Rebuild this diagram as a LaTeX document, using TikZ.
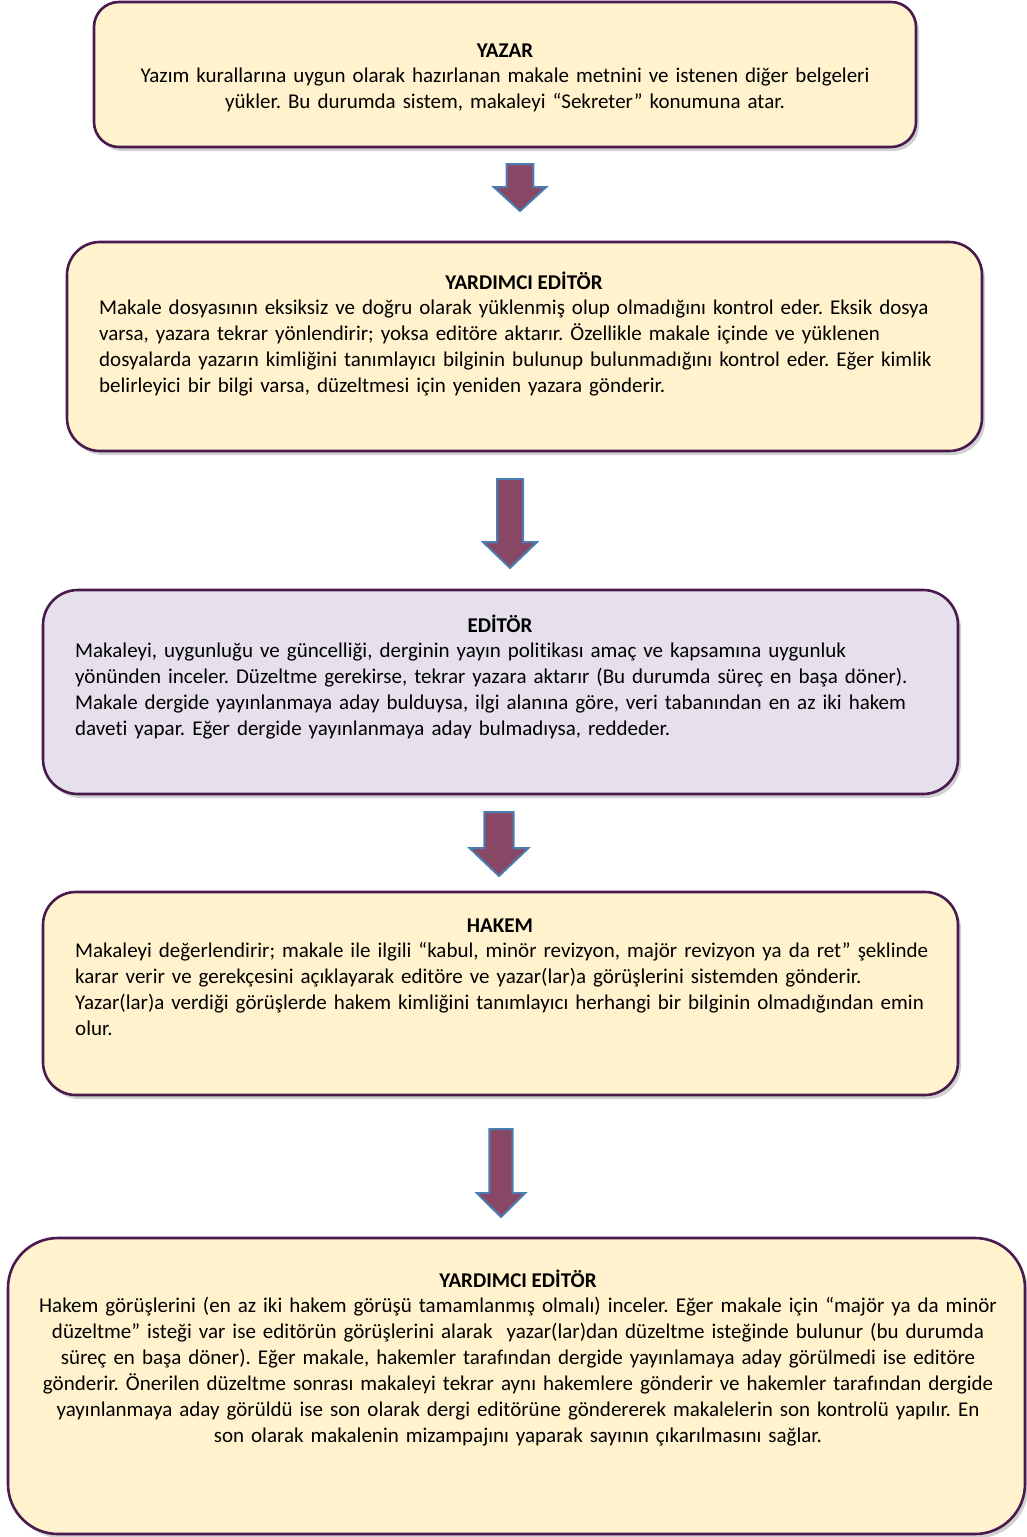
\documentclass[tikz,border=0pt]{standalone}
\usepackage{fontspec}
\setmainfont{Carlito}[Ligatures=NoCommon]
\frenchspacing
\usetikzlibrary{shadows}

\definecolor{kutusari}{HTML}{FFF2CC}
\definecolor{kutulila}{HTML}{E5E0EC}
\definecolor{kenarmor}{HTML}{4A1A4E}
\definecolor{okdolgu}{HTML}{894766}
\definecolor{okkenar}{HTML}{4A7DB0}

\newcommand{\yazi}{\fontsize{21}{26}\selectfont}

% asagi dogru blok ok: x, ust, alt, govde yari genislik, bas yari genislik, bas baslangici
\newcommand{\asagiok}[6]{%
  \filldraw[okstil] (#1-#4,#2) -- (#1+#4,#2) -- (#1+#4,#6) -- (#1+#5,#6) -- (#1,#3)
    -- (#1-#5,#6) -- (#1-#4,#6) -- cycle;}

\tikzset{
  kutu/.style={draw=kenarmor, line width=2.6pt, rounded corners=#1,
    drop shadow={shadow xshift=3pt, shadow yshift=-4pt, opacity=0.3, fill=black!60}},
  baslik/.style={font=\yazi\bfseries, anchor=base, inner sep=0pt},
  metin/.style={font=\yazi, anchor=base west, inner sep=0pt, text width=930pt, align=left},
  ortametin/.style={font=\yazi, anchor=base, inner sep=0pt, text width=1010pt, align=center},
  okstil/.style={fill=okdolgu, draw=okkenar, line width=2pt, line join=miter}
}

\begin{document}
\begin{tikzpicture}[x=1pt, y=-1pt]
	\useasboundingbox (0,0) rectangle (1027,1537);

	% Kutular
	\node[kutu=25pt, fill=kutusari, minimum width=822pt, minimum height=145pt] (yazar) at (505,74.5) {};
	\node[kutu=33pt, fill=kutusari, minimum width=915pt, minimum height=209pt] (yrdeditor) at (524.5,346.5) {};
	\node[kutu=35pt, fill=kutulila, minimum width=915pt, minimum height=204pt] (editor) at (500.5,692) {};
	\node[kutu=33pt, fill=kutusari, minimum width=915pt, minimum height=203pt] (hakem) at (500.5,993.5) {};
	\node[kutu=50pt, fill=kutusari, minimum width=1017pt, minimum height=296pt] (sonkontrol) at (516.5,1386) {};

	% Oklar
	\asagiok{520}{164}{211}{13.3}{26.3}{187}
	\asagiok{510}{479}{568}{13}{27}{542}
	\asagiok{499}{812}{876}{14.7}{29.5}{848}
	\asagiok{501}{1129}{1217}{11.7}{24.3}{1193}

	% YAZAR
	\node[baslik] (yazarbaslik) at (505,57) {YAZAR};
	\node[ortametin] (yazarmetin) at (505,82) {Yazım kurallarına uygun olarak hazırlanan makale metnini ve istenen diğer belgeleri\\
		yükler. Bu durumda sistem, makaleyi “Sekreter” konumuna atar.};

	% YARDIMCI EDİTÖR
	\node[baslik] (yrdbaslik) at (524,289) {YARDIMCI EDİTÖR};
	\node[metin] (yrdmetin) at (99,314) {Makale dosyasının eksiksiz ve doğru olarak yüklenmiş olup olmadığını kontrol eder. Eksik dosya\\
		varsa, yazara tekrar yönlendirir; yoksa editöre aktarır. Özellikle makale içinde ve yüklenen\\
		dosyalarda yazarın kimliğini tanımlayıcı bilginin bulunup bulunmadığını kontrol eder. Eğer kimlik\\
		belirleyici bir bilgi varsa, düzeltmesi için yeniden yazara gönderir.};

	% EDİTÖR
	\node[baslik] (editorbaslik) at (500,632) {EDİTÖR};
	\node[metin] (editormetin) at (75,657) {Makaleyi, uygunluğu ve güncelliği, derginin yayın politikası amaç ve kapsamına uygunluk\\
		yönünden inceler. Düzeltme gerekirse, tekrar yazara aktarır (Bu durumda süreç en başa döner).\\
		Makale dergide yayınlanmaya aday bulduysa, ilgi alanına göre, veri tabanından en az iki hakem\\
		daveti yapar. Eğer dergide yayınlanmaya aday bulmadıysa, reddeder.};

	% HAKEM
	\node[baslik] (hakembaslik) at (500,932) {HAKEM};
	\node[metin] (hakemmetin) at (75,957) {Makaleyi değerlendirir; makale ile ilgili “kabul, minör revizyon, majör revizyon ya da ret” şeklinde\\
		karar verir ve gerekçesini açıklayarak editöre ve yazar(lar)a görüşlerini sistemden gönderir.\\
		Yazar(lar)a verdiği görüşlerde hakem kimliğini tanımlayıcı herhangi bir bilginin olmadığından emin\\
		olur.};

	% YARDIMCI EDİTÖR (son)
	\node[baslik] (sonbaslik) at (518,1287) {YARDIMCI EDİTÖR};
	\node[ortametin] (sonmetin) at (518,1312) {Hakem görüşlerini (en az iki hakem görüşü tamamlanmış olmalı) inceler. Eğer makale için “majör ya da minör\\
		düzeltme” isteği var ise editörün görüşlerini alarak\ \ yazar(lar)dan düzeltme isteğinde bulunur (bu durumda\\
		süreç en başa döner). Eğer makale, hakemler tarafından dergide yayınlamaya aday görülmedi ise editöre\\
		gönderir. Önerilen düzeltme sonrası makaleyi tekrar aynı hakemlere gönderir ve hakemler tarafından dergide\\
		yayınlanmaya aday görüldü ise son olarak dergi editörüne göndererek makalelerin son kontrolü yapılır. En\\
		son olarak makalenin mizampajını yaparak sayının çıkarılmasını sağlar.};

\end{tikzpicture}
\end{document}
